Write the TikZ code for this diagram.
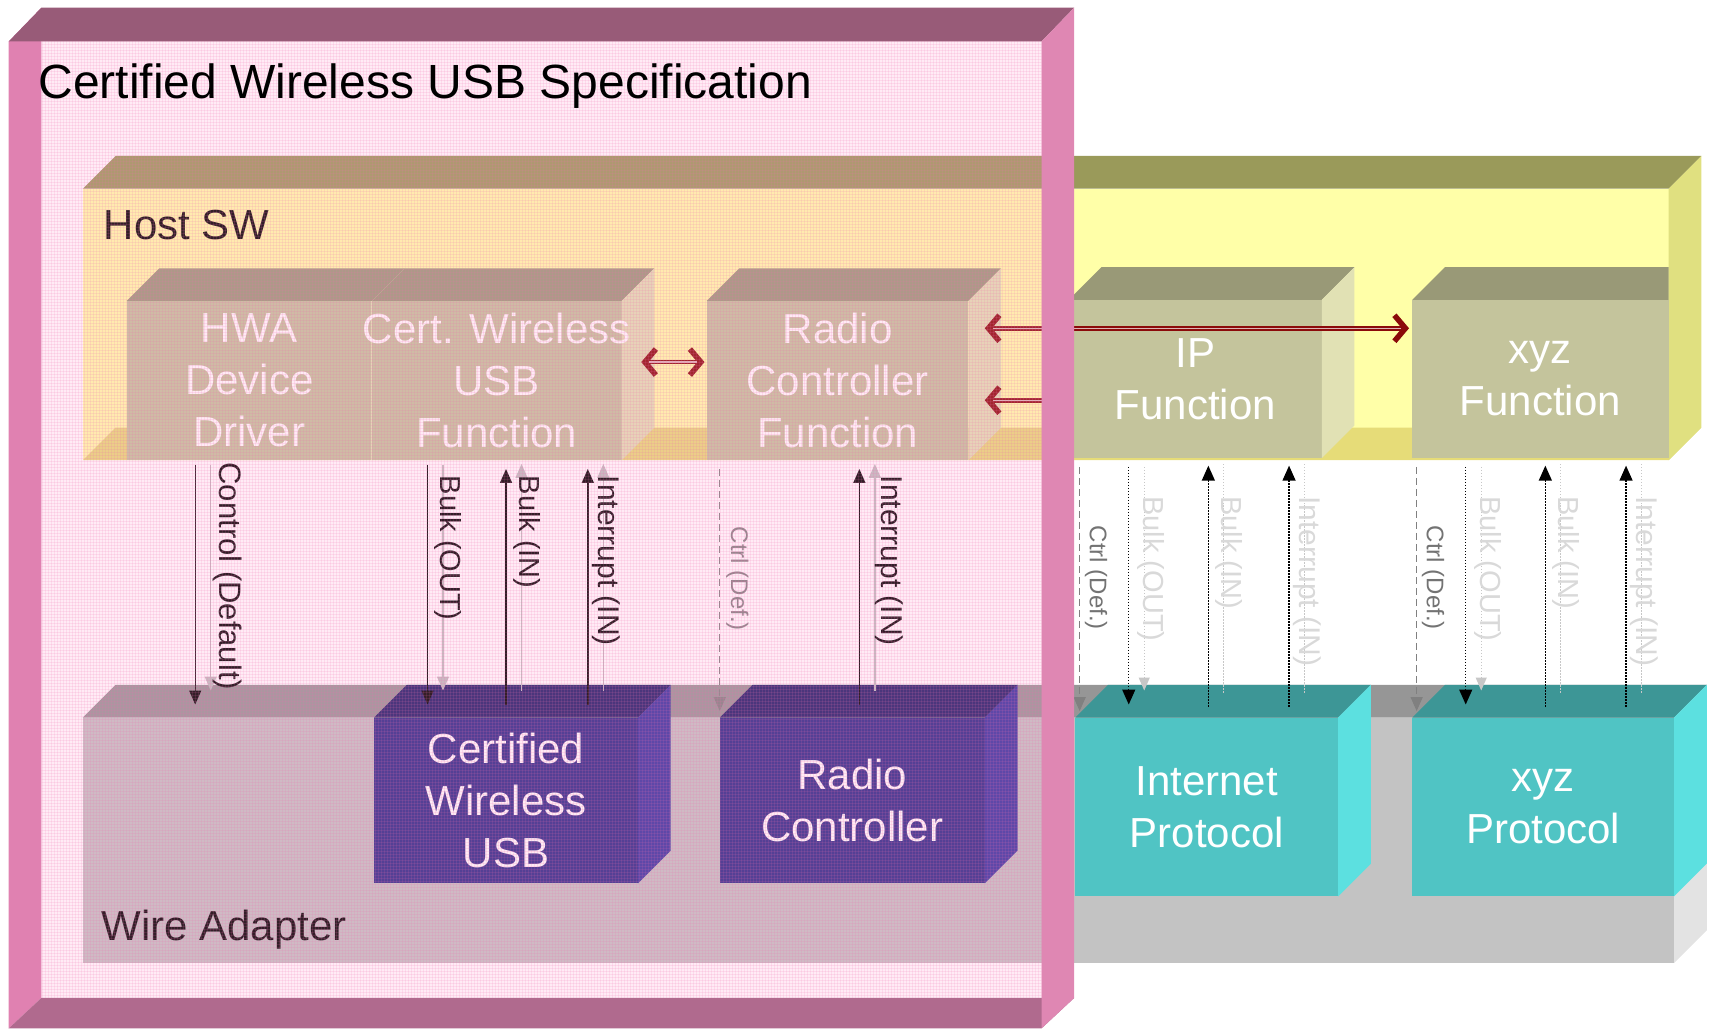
\documentclass[tikz,border=0pt]{standalone}
\usepackage{fontspec}
\setmainfont{Liberation Sans}
\usetikzlibrary{arrows.meta,fit,patterns}

\definecolor{specpink}{HTML}{FF99CC}
\definecolor{specgrid}{HTML}{F070B0}
\definecolor{spectop}{HTML}{985B78}
\definecolor{specside}{HTML}{DF87B3}
\definecolor{specleft}{HTML}{E081B1}
\definecolor{specbottom}{HTML}{B06A8E}
\definecolor{hostfront}{HTML}{FFFFA8}
\definecolor{hosttop}{HTML}{9A9A5A}
\definecolor{hostside}{HTML}{E0E080}
\definecolor{hostfloor}{HTML}{E6DC78}
\definecolor{fnfront}{HTML}{C4C49C}
\definecolor{fntop}{HTML}{999977}
\definecolor{fnside}{HTML}{E1E1B4}
\definecolor{wafront}{HTML}{C3C3C3}
\definecolor{watop}{HTML}{969696}
\definecolor{waside}{HTML}{E3E3E3}
\definecolor{cwfront}{HTML}{2A2A88}
\definecolor{cwtop}{HTML}{1E1E68}
\definecolor{cwside}{HTML}{3634A0}
\definecolor{ipfront}{HTML}{50C4C4}
\definecolor{iptop}{HTML}{3D9696}
\definecolor{ipside}{HTML}{5CE0E0}
\definecolor{linkred}{HTML}{8B0A0A}

\newcommand{\boxfont}{\fontsize{42}{52}\selectfont}
\newcommand{\pipefont}{\fontsize{29}{29}\selectfont}

% top and right face of a block node
\newcommand{\blockfaces}[2]{%
  \fill[#2top] (#1.north west) -- ++(30,-30) -- ([shift={(30,-30)}]#1.north east) -- (#1.north east) -- cycle;
  \fill[#2side] (#1.north east) -- ++(30,-30) -- ([shift={(30,-30)}]#1.south east) -- (#1.south east) -- cycle;
}

\tikzset{
  barb/.tip={Straight Barb[length=11pt,width=26pt,line width=5.5pt]},
  face/.style={inner sep=0pt, outer sep=0pt},
  boxtext/.style={inner sep=0pt, text=white, font=\boxfont, align=center},
  layerlabel/.style={inner sep=0pt, font=\fontsize{42}{42}\selectfont},
  link/.style={draw=linkred, line width=4.6pt},
  linkcore/.style={draw=linkred!30!white, line width=1.4pt},
  pipe/.style={draw=black, line width=1.4pt, -{Triangle[width=12pt,length=14pt]}},
  ghost/.style={draw=black!25, line width=1.3pt, -{Triangle[width=12pt,length=14pt]}},
  ctlpipe/.style={draw=black!50, line width=1.3pt, dash pattern=on 7pt off 4pt, -{Triangle[width=12pt,length=14pt]}},
  dotpipe/.style={draw=black, line width=1.4pt, dash pattern=on 1.4pt off 1.6pt, -{Triangle[width=13pt,length=15pt]}},
  faintpipe/.style={draw=black!22, line width=1.2pt, dash pattern=on 1.2pt off 1.8pt},
  pipelbl/.style={rotate=-90, anchor=west, inner sep=0pt, font=\pipefont},
}

\begin{document}
\begin{tikzpicture}[x=1.0906pt, y=-1.0906pt]
\useasboundingbox (0,0) rectangle (1568,943);

% Host SW layer
\node[face, fill=hostfront, fit={(76,173) (1530,422)}] (host) {};
\fill[hostfloor] (host.south west) -- ++(30,-30) -- ([shift={(30,-30)}]host.south east) -- (host.south east) -- cycle;
\blockfaces{host}{host}
\node[layerlabel, anchor=base west] (hostlbl) at (95,220) {Host SW};

% function blocks
\node[face, fill=fnfront, fit={(116,276) (341,422)}] (hwa) {};
\blockfaces{hwa}{fn}
\node[face, fill=fnfront, fit={(341,276) (570,422)}] (cwfn) {};
\blockfaces{cwfn}{fn}
\draw[fnside, line width=1pt] (cwfn.north west) -- (cwfn.south west);
\node[face, fill=fnfront, fit={(648,276) (888,422)}] (radiofn) {};
\blockfaces{radiofn}{fn}
\node[face, fill=fnfront, fit={(980,275) (1212,420)}] (ipfn) {};
\blockfaces{ipfn}{fn}
\node[face, fill=fnfront, fit={(1295,275) (1530,420)}] (xyzfn) {};
\fill[fntop] (xyzfn.north west) -- ++(30,-30) -- ([yshift=32.7pt]xyzfn.north east) -- (xyzfn.north east) -- cycle;

\node[boxtext] (hwatext) at (hwa) {HWA\\Device\\Driver};
\node[boxtext] (cwfntext) at (cwfn) {Cert. Wireless\\USB\\Function};
\node[boxtext] (radiofntext) at (radiofn) {Radio\\Controller\\Function};
\node[boxtext] (ipfntext) at (ipfn) {IP\\Function};
\node[boxtext] (xyzfntext) at (xyzfn) {xyz\\Function};

% links between functions
\coordinate (cw-out) at (588,332);
\coordinate (rf-in) at (646,332);
\coordinate (rf-up) at (903,301);
\coordinate (rf-lo) at (903,367);
\coordinate (xyz-in) at (1292,301);
\coordinate (spec-edge) at (956,367);
\draw[link, barb-barb] (cw-out) -- (rf-in);
\draw[linkcore, shorten <=8pt, shorten >=8pt] (cw-out) -- (rf-in);
\draw[link, barb-barb] (rf-up) -- (xyz-in);
\draw[linkcore, shorten <=8pt, shorten >=8pt] (rf-up) -- (xyz-in);
\draw[link, -barb] (spec-edge) -- (rf-lo);
\draw[linkcore, shorten >=8pt] (spec-edge) -- (rf-lo);

% Wire Adapter layer
\node[face, fill=wafront, fit={(76,658) (1535,883)}] (wa) {};
\blockfaces{wa}{wa}
\node[layerlabel, anchor=base west] (walbl) at (93,862) {Wire Adapter};

\node[face, fill=cwfront, fit={(343,658) (585,810)}] (cwusb) {};
\blockfaces{cwusb}{cw}
\node[face, fill=cwfront, fit={(660,658) (903,810)}] (radio) {};
\blockfaces{radio}{cw}
\node[face, fill=ipfront, fit={(986,658) (1227,822)}] (inet) {};
\blockfaces{inet}{ip}
\node[face, fill=ipfront, fit={(1295,658) (1535,822)}] (xyzp) {};
\blockfaces{xyzp}{ip}

\node[boxtext] (cwusbtext) at (cwusb) {Certified\\Wireless\\USB};
\node[boxtext] (radiotext) at (radio) {Radio\\Controller};
\node[boxtext] (inettext) at (inet) {Internet\\Protocol};
\node[boxtext] (xyzptext) at (xyzp) {xyz\\Protocol};

% pipes inside the spec
\foreach \n/\px in {ctl/179, bout/392} {
  \coordinate (\n-hi) at (\px,426);
  \coordinate (\n-lo) at (\px,646);
  \draw[pipe] (\n-hi) -- (\n-lo);
  \draw[ghost] ([xshift=15.5pt]\n-hi) -- ([xshift=15.5pt,yshift=14pt]\n-lo);
}
\foreach \n/\px in {bin/464, intr/539, rint/788} {
  \coordinate (\n-hi) at (\px,430);
  \coordinate (\n-lo) at (\px,646);
  \draw[pipe] (\n-lo) -- (\n-hi);
  \draw[ghost] ([xshift=15.5pt,yshift=14pt]\n-lo) -- ([xshift=15.5pt,yshift=5pt]\n-hi);
}
\coordinate (cdef-hi) at (660,430);
\coordinate (cdef-lo) at (660,652);
\draw[ctlpipe] (cdef-hi) -- (cdef-lo);

\node[pipelbl, font=\fontsize{31}{31}\selectfont] (lctl) at (209,424) {Control (Default)};
\node[pipelbl] (lbout) at (411,436) {Bulk (OUT)};
\node[pipelbl] (lbin) at (483,436) {Bulk (IN)};
\node[pipelbl, font=\fontsize{30}{30}\selectfont] (lintr) at (556,436) {Interrupt (IN)};
\node[pipelbl, font=\fontsize{24}{24}\selectfont, text=black!50] (lcdef) at (676,483) {Ctrl (Def.)};
\node[pipelbl, font=\fontsize{30}{30}\selectfont] (lrint) at (815,436) {Interrupt (IN)};

% pipes to the other protocols
\foreach \g/\dx in {ip/0, xyz/309} {
  \coordinate (\g-ctl-hi) at (990+\dx,428);
  \coordinate (\g-ctl-lo) at (990+\dx,652);
  \draw[ctlpipe] (\g-ctl-hi) -- (\g-ctl-lo);
  \coordinate (\g-bout-hi) at (1035+\dx,428);
  \coordinate (\g-bout-lo) at (1035+\dx,646);
  \draw[dotpipe] (\g-bout-hi) -- (\g-bout-lo);
  \draw[faintpipe, -{Triangle[width=11pt,length=13pt]}] ([xshift=15.5pt]\g-bout-hi) -- ([xshift=15.5pt,yshift=14pt]\g-bout-lo);
  \foreach \n/\px in {bin/1108, intr/1182} {
    \coordinate (\g-\n-hi) at (\px+\dx,427);
    \coordinate (\g-\n-lo) at (\px+\dx,648);
    \draw[dotpipe] (\g-\n-lo) -- (\g-\n-hi);
    \draw[faintpipe] ([xshift=15.5pt,yshift=14pt]\g-\n-lo) -- ([xshift=15.5pt,yshift=3pt]\g-\n-hi);
  }
  \node[pipelbl, font=\fontsize{24}{24}\selectfont, text=black!55] (\g-lctl) at (1005+\dx,482) {Ctrl (Def.)};
  \node[pipelbl, text=black!15] (\g-lbout) at (1055+\dx,455) {Bulk (OUT)};
  \node[pipelbl, text=black!15] (\g-lbin) at (1127+\dx,455) {Bulk (IN)};
  \node[pipelbl, text=black!15, font=\fontsize{30}{30}\selectfont] (\g-lintr) at (1199+\dx,455) {Interrupt (IN)};
}

% the spec box, seen through its front
\node[face, fill=specpink, fill opacity=0.2, fit={(38,38) (955,915)}] (spec) {};
\fill[pattern=grid, pattern color=specgrid, opacity=0.14] (spec.north west) rectangle (spec.south east);
\fill[specleft] (8,38) -- (38,7) -- (38,915) -- (8,943) -- cycle;
\fill[specbottom] (8,943) -- (38,915) -- (985,915) -- (955,943) -- cycle;
\fill[spectop] (8,38) -- (38,7) -- (985,7) -- (955,38) -- cycle;
\fill[specside] (955,38) -- (985,7) -- (985,915) -- (955,943) -- cycle;
\node[anchor=base west, inner sep=0pt, font=\fontsize{48}{48}\selectfont] (title) at (35,90) {Certified Wireless USB Specification};

\end{tikzpicture}
\end{document}
